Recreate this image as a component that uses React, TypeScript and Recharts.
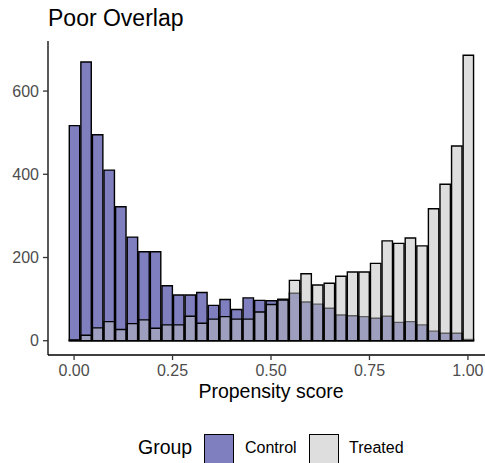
import React from 'react';
import { BarChart, Bar, XAxis, YAxis } from 'recharts';

// histogram bins (centres) and counts
const binCenters = [
  0, 0.0294, 0.0588, 0.0882, 0.1176, 0.1471, 0.1765, 0.2059, 0.2353, 0.2647, 0.2941, 0.3235,
  0.3529, 0.3824, 0.4118, 0.4412, 0.4706, 0.5, 0.5294, 0.5588, 0.5882, 0.6176, 0.6471, 0.6765,
  0.7059, 0.7353, 0.7647, 0.7941, 0.8235, 0.8529, 0.8824, 0.9118, 0.9412, 0.9706, 1,
];
const controlCounts = [
  517, 670, 495, 410, 322, 249, 214, 214, 132, 110, 110, 116, 85, 99, 75, 103, 97, 96, 100, 114,
  93, 88, 78, 62, 60, 58, 54, 59, 44, 46, 38, 23, 18, 18, 3,
];
const treatedCounts = [
  2, 13, 31, 46, 27, 41, 50, 30, 38, 38, 59, 42, 52, 58, 52, 52, 69, 87, 98, 145, 161, 134, 138,
  155, 165, 165, 186, 240, 234, 247, 228, 317, 376, 468, 686,
];
const xTicks = [0, 0.25, 0.5, 0.75, 1];
const yTicks = [0, 200, 400, 600];

const data = binCenters.map((x, i) => ({ x, control: controlCounts[i], treated: treatedCounts[i] }));

const FONT = '"Liberation Sans", Arial, Helvetica, sans-serif';
const X_DOMAIN: [number, number] = [-0.0662, 1.0662];
const Y_DOMAIN: [number, number] = [-34.3, 720.3];
const CHART_W = 495;
const MARGIN = { top: 41, right: 1, bottom: 58, left: 0 };
const Y_AXIS_W = 48;
const plotW = CHART_W - MARGIN.left - MARGIN.right - Y_AXIS_W;
const barW = plotW / (X_DOMAIN[1] - X_DOMAIN[0]) / 34;

const CONTROL_FILL = 'rgba(0,0,128,0.5)';
const TREATED_FILL = 'rgba(190,190,190,0.5)';

const tickStyle = { fill: '#4d4d4d', fontSize: 16, fontFamily: FONT };

function LegendKey({ left, fill }: { left: number; fill: string }) {
  return (
    <div
      style={{
        position: 'absolute',
        left,
        top: 434,
        width: 28,
        height: 28,
        background: fill,
        border: '1.3px solid #000',
      }}
    />
  );
}

export default function App() {
  return (
    <div
      style={{
        position: 'absolute',
        left: 0,
        top: 0,
        width: 485,
        height: 463,
        overflow: 'hidden',
        background: '#fff',
        fontFamily: FONT,
      }}
    >
      <div style={{ position: 'absolute', left: 48, top: 5, fontSize: 23, color: '#000' }}>
        Poor Overlap
      </div>
      <BarChart width={CHART_W} height={463} data={data} margin={MARGIN} barCategoryGap={0}>
        <XAxis
          xAxisId="a"
          type="number"
          dataKey="x"
          domain={X_DOMAIN}
          allowDataOverflow
          ticks={xTicks}
          tickFormatter={(v: number) => v.toFixed(2)}
          tick={tickStyle}
          tickSize={5}
          tickMargin={5}
          height={50}
          axisLine={{ stroke: '#000', strokeWidth: 1.3 }}
          tickLine={{ stroke: '#333', strokeWidth: 1.3 }}
          label={{
            value: 'Propensity score',
            position: 'insideBottom',
            offset: 7,
            fill: '#000',
            fontSize: 19.5,
            fontFamily: FONT,
          }}
        />
        <XAxis xAxisId="b" type="number" dataKey="x" domain={X_DOMAIN} allowDataOverflow hide />
        <YAxis
          type="number"
          domain={Y_DOMAIN}
          allowDataOverflow
          ticks={yTicks}
          width={Y_AXIS_W}
          tick={tickStyle}
          tickSize={5}
          tickMargin={4}
          axisLine={{ stroke: '#000', strokeWidth: 1.3 }}
          tickLine={{ stroke: '#333', strokeWidth: 1.3 }}
        />
        <Bar
          xAxisId="a"
          dataKey="control"
          barSize={barW}
          fill={CONTROL_FILL}
          stroke="#000"
          strokeWidth={1.4}
          isAnimationActive={false}
        />
        <Bar
          xAxisId="b"
          dataKey="treated"
          barSize={barW}
          fill={TREATED_FILL}
          stroke="#000"
          strokeWidth={1.4}
          isAnimationActive={false}
        />
      </BarChart>
      <div style={{ position: 'absolute', left: 138, top: 436, fontSize: 19.5, color: '#000' }}>Group</div>
      <LegendKey left={204} fill={CONTROL_FILL} />
      <div style={{ position: 'absolute', left: 245, top: 439, fontSize: 16, color: '#000' }}>Control</div>
      <LegendKey left={309} fill={TREATED_FILL} />
      <div style={{ position: 'absolute', left: 349, top: 439, fontSize: 16, color: '#000' }}>Treated</div>
    </div>
  );
}
